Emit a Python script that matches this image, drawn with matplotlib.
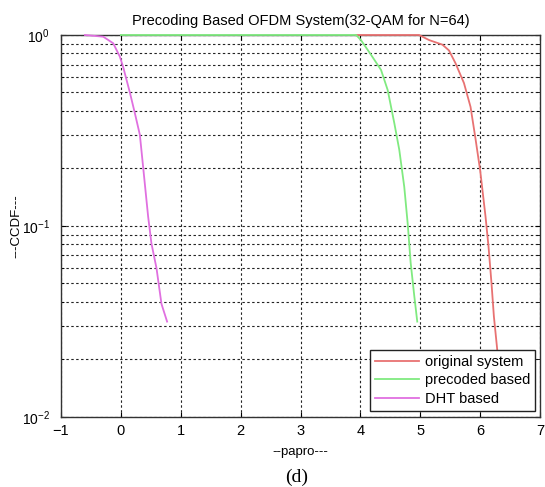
import numpy as np
import matplotlib
matplotlib.use('Agg')
import matplotlib.pyplot as plt

# valores (papro en dB, CCDF)
orig_x = [3.93, 4.98, 5.15, 5.37, 5.48, 5.59, 5.73, 5.84, 5.92, 6.00, 6.09, 6.14, 6.19, 6.23, 6.28, 6.33]
orig_y = [1.0, 1.0, 0.94, 0.89, 0.83, 0.71, 0.56, 0.42, 0.29, 0.196, 0.112, 0.078, 0.05, 0.0335, 0.0234, 0.016]

prec_x = [0.0, 3.93, 4.01, 4.18, 4.345, 4.456, 4.567, 4.65, 4.733, 4.79, 4.84, 4.90, 4.95]
prec_y = [1.0, 1.0, 0.94, 0.786, 0.656, 0.515, 0.345, 0.25, 0.16, 0.103, 0.064, 0.043, 0.0315]

dht_x = [-0.6, -0.295, -0.128, -0.017, 0.038, 0.15, 0.233, 0.317, 0.372, 0.455, 0.51, 0.595, 0.678, 0.772]
dht_y = [1.0, 0.98, 0.905, 0.77, 0.68, 0.50, 0.39, 0.30, 0.203, 0.112, 0.081, 0.060, 0.039, 0.0315]

labels = ['original system', 'precoded based', 'DHT based']
xticks = [-1, 0, 1, 2, 3, 4, 5, 6, 7]

plt.rcParams['font.family'] = ['Liberation Sans', 'DejaVu Sans']

fig = plt.figure(figsize=(5.45, 4.87), dpi=100)
ax = fig.add_axes([61/545, (487-416.7)/487, (540-61)/545, (416.7-35)/487])

ax.semilogy(orig_x, orig_y, color='#e87272', lw=1.3, label=labels[0], clip_on=False, zorder=3)
ax.semilogy(prec_x, prec_y, color='#80ea80', lw=1.3, label=labels[1], clip_on=False, zorder=3)
ax.semilogy(dht_x, dht_y, color='#e070e0', lw=1.3, label=labels[2], clip_on=False, zorder=3)

ax.set_xlim(-1, 7)
ax.set_ylim(1e-2, 1)
ax.set_xticks(xticks)
ax.grid(True, which='both', color='#222222', linestyle=(0, (2.2, 2.2)), lw=0.8)
ax.tick_params(which='both', direction='in', top=True, right=True, labelsize=10.5)
ax.tick_params(axis='y', pad=8, labelsize=10)
ax.tick_params(axis='x', pad=5)
for s in ax.spines.values():
	s.set_color('#333333')
	s.set_linewidth(1.0)

ax.set_title('Precoding Based OFDM System(32-QAM for N=64)', fontsize=10.5, pad=7)
ax.set_xlabel('--papro---', fontsize=9.5, labelpad=6)
ax.set_ylabel('---CCDF---', fontsize=9.5)
ax.yaxis.set_label_coords(-0.081, 0.5)

leg = ax.legend(loc='lower right', bbox_to_anchor=(0.99, 0.015), borderaxespad=0,
	fontsize=10.5, fancybox=False, framealpha=1, edgecolor='#222222',
	handlelength=3.0, handletextpad=0.4, labelspacing=0.3, borderpad=0.35)
leg.get_frame().set_linewidth(1.0)

fig.text(297/545, 1-477/487, '(d)', family='Liberation Serif', fontsize=14, ha='center', va='center')

fig.savefig('out.png', dpi=100)
